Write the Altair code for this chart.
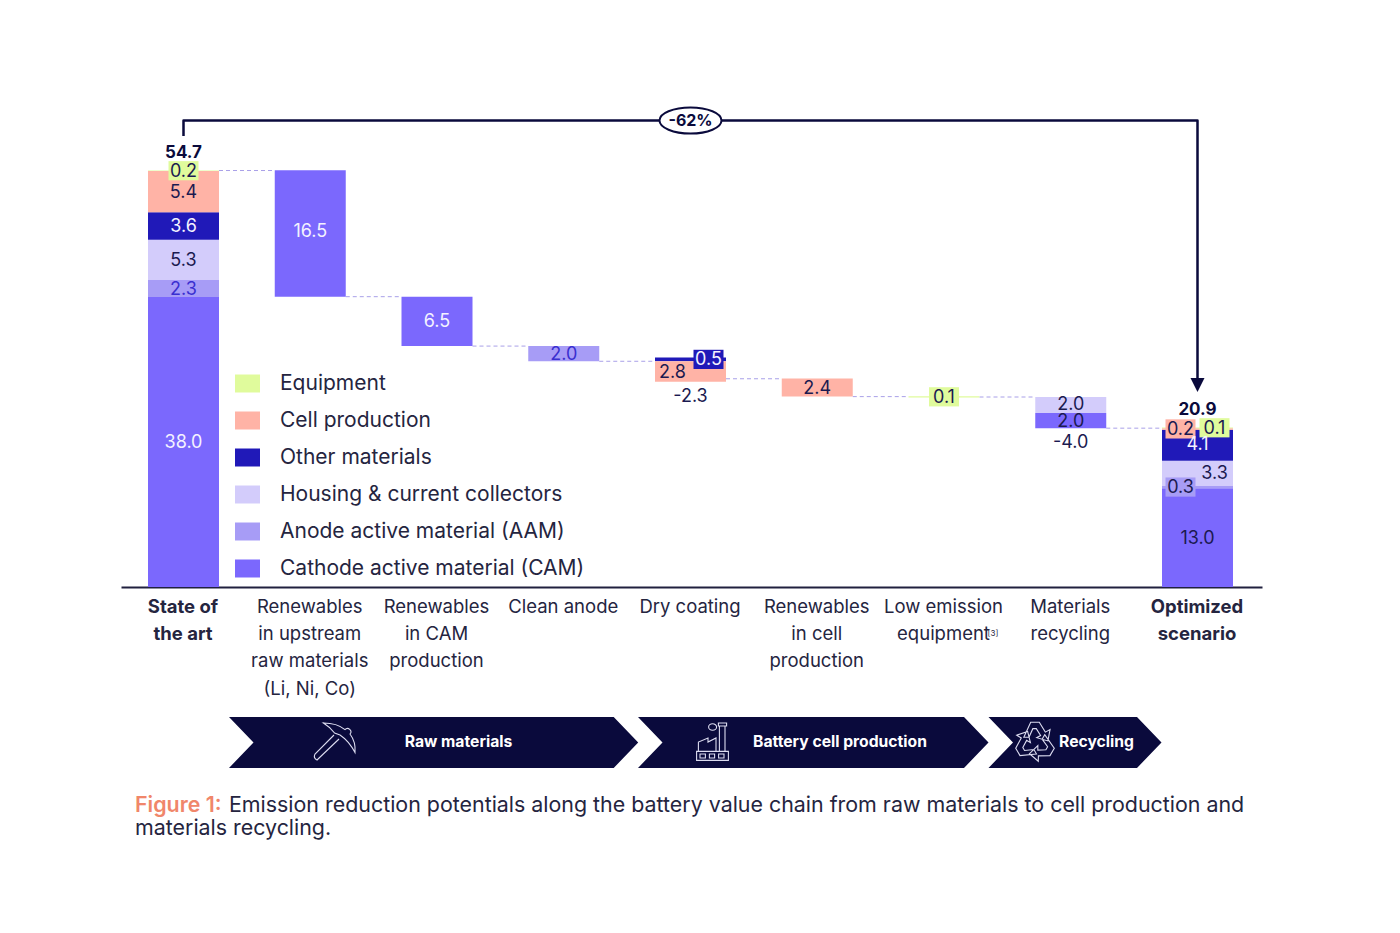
import json
import math
import altair as alt
import pandas as pd

# ---------- data ----------
categories = [
    ["State of", "the art"],
    ["Renewables", "in upstream", "raw materials", "(Li, Ni, Co)"],
    ["Renewables", "in CAM", "production"],
    ["Clean anode"],
    ["Dry coating"],
    ["Renewables", "in cell", "production"],
    ["Low emission", "equipment\u2002"],
    ["Materials", "recycling"],
    ["Optimized", "scenario"],
]
footnote = "[3]"
groups = [
    "Equipment", "Cell production", "Other materials",
    "Housing & current collectors", "Anode active material (AAM)",
    "Cathode active material (CAM)",
]
group_colors = ["#e0fb9c", "#ffb3a6", "#2019b8", "#d3ccfb", "#a79cf6", "#7b68fd"]

seg_cat = [0, 0, 0, 0, 0, 0, 1, 2, 3, 4, 4, 5, 6, 7, 7, 8, 8, 8, 8, 8, 8]
seg_group = [5, 4, 3, 2, 1, 0, 5, 5, 4, 2, 1, 1, 0, 3, 5, 5, 4, 3, 2, 1, 0]
seg_start = [0, 38.15, 40.4, 45.7, 49.3, 54.75, 54.85, 38.2, 31.7, 29.7, 29.7,
             27.45, 25.1, 25.0, 22.9, 0, 13.0, 13.3, 16.6, 20.7, 20.9]
seg_end = [38.15, 40.4, 45.7, 49.3, 54.75, 54.8, 38.2, 31.7, 29.7, 30.2, 27.0,
           25.05, 24.95, 22.9, 20.9, 13.0, 13.3, 16.6, 20.7, 20.9, 21.0]
seg_label = ["38.0", "2.3", "5.3", "3.6", "5.4", "0.2", "16.5", "6.5", "2.0", "0.5", "2.8",
             "2.4", "0.1", "2.0", "2.0", "13.0", "0.3", "3.3", "4.1", "0.2", "0.1"]

conn_cat = [0, 1, 2, 3, 4, 5, 6, 7]
conn_level = [54.8, 38.2, 31.7, 29.7, 27.4, 25.05, 25.0, 20.9]

total_cat = [0, 8]
total_value = [54.7, 20.9]
net_cat = [4, 7]
net_value = [-2.3, -4.0]
net_bottom = [27.0, 20.9]
reduction = "-62%"

chevron_labels = ["Raw materials", "Battery cell production", "Recycling"]
caption_head = "Figure 1:"
caption_1 = "Emission reduction potentials along the battery value chain from raw materials to cell production and"
caption_2 = "materials recycling."

# ---------- layout helpers (pixel position on the page -> data units) ----------
PX_PER_CAT, PX_PER_UNIT = 126.75, 7.6
def ux(px): return (px - 183.5) / PX_PER_CAT
def uy(py): return (587 - py) / PX_PER_UNIT

NAVY = "#0a0a3c"
INK = "#25253f"
FONT = "Inter"
BAR = 35.5 / PX_PER_CAT
xs = alt.Scale(domain=[ux(121), ux(1262)], nice=False, zero=False)
ys = alt.Scale(domain=[0, 500 / PX_PER_UNIT], nice=False, zero=False)

x_axis = alt.Axis(
    values=list(range(len(categories))),
    labelExpr=json.dumps(categories, ensure_ascii=True) + "[datum.value]",
    title=None, grid=False, ticks=False, domainColor="#20203f", domainWidth=2,
    labelFont=FONT, labelFontSize=18.5, labelColor=INK, labelLineHeight=27.4,
    labelPadding=10, labelAngle=0, labelBaseline="top", labelFlush=False, labelOverlap=False,
    labelOffset=-1,
    labelFontWeight={"condition": {"test": "datum.value==0||datum.value==8", "value": 700}, "value": 400},
)
def X(f): return alt.X(f, type="quantitative", scale=xs, axis=x_axis)
def Y(f): return alt.Y(f, type="quantitative", scale=ys, axis=None)

color_scale = alt.Scale(domain=groups, range=group_colors)
legend = alt.Legend(
    orient="none", legendX=114, legendY=284, title=None, direction="vertical",
    symbolType="M-1,-0.72H1V0.72H-1Z", symbolSize=625, symbolStrokeWidth=0, symbolOpacity=1,
    labelFont=FONT, labelFontSize=21, labelColor=INK, labelOffset=20, rowPadding=14,
    labelLimit=500, symbolOffset=0,
)

segments = pd.DataFrame({
    "cat": seg_cat,
    "group": [groups[g] for g in seg_group],
    "start": seg_start,
    "end": seg_end,
    "label": seg_label,
})
segments["x0"] = segments["cat"] - BAR
segments["x1"] = segments["cat"] + BAR
segments["mid"] = (segments["start"] + segments["end"]) / 2

# pixel nudges of the labels and boxes, keyed by row of the segment table
nudge = {4: (0, 0), 5: (0, 0), 6: (0, -2), 9: (18, 0), 10: (-18, 0), 13: (0, -1), 14: (0, 0),
         16: (-17, 0), 17: (17, 0), 18: (0, -1), 19: (-17, 0), 20: (17, 0)}
segments["lx"] = [c + nudge.get(i, (0, 0))[0] / PX_PER_CAT for i, c in enumerate(seg_cat)]
segments["ly"] = [m - nudge.get(i, (0, 0))[1] / PX_PER_UNIT for i, m in enumerate(segments["mid"])]

light = {"38.0", "16.5", "6.5", "3.6", "4.1", "0.5"}
segments["tc"] = ["#f4f2ff" if l in light else ("#3a2fd0" if l == "2.3" else "#1b1a50") for l in seg_label]
segments.loc[seg_label.index("2.0"), "tc"] = "#3a2fd0"

bars = alt.Chart(segments).mark_rect().encode(
    x=X("x0"), x2="x1", y=Y("start"), y2="end",
    color=alt.Color("group:N", scale=color_scale, legend=legend),
)

boxed = segments[segments["label"].isin(["0.2", "0.5", "0.1", "0.3"])]
boxes = alt.Chart(boxed).mark_point(filled=True, opacity=1, shape="M-1,-0.64H1V0.64H-1Z", size=900).encode(
    x=X("lx"), y=Y("ly"),
    color=alt.Color("group:N", scale=color_scale, legend=None),
)

labels = alt.Chart(segments).mark_text(font=FONT, fontSize=18, baseline="middle", align="center", dy=1).encode(
    x=X("lx"), y=Y("ly"), text="label:N", color=alt.Color("tc:N", scale=None),
)

conn = pd.DataFrame({"x0": [c + BAR for c in conn_cat], "x1": [c + 1 - BAR for c in conn_cat], "y": conn_level})
connectors = alt.Chart(conn).mark_rule(color="#a9a0e8", strokeWidth=1, strokeDash=[4, 3]).encode(
    x=X("x0"), x2="x1", y=Y("y"),
)

totals = alt.Chart(pd.DataFrame({"x": total_cat, "y": total_value, "t": [f"{v:.1f}" for v in total_value]})).mark_text(
    font=FONT, fontSize=17, fontWeight=700, color=NAVY, dy=-18.5, baseline="middle",
).encode(x=X("x"), y=Y("y"), text="t:N")

nets = alt.Chart(pd.DataFrame({"x": net_cat, "y": net_bottom, "t": [f"{v:.1f}" for v in net_value]})).mark_text(
    font=FONT, fontSize=18, color="#1b1a50", dy=15, baseline="middle",
).encode(x=X("x"), y=Y("y"), text="t:N")

# reduction bracket
bracket_df = pd.DataFrame({"x": [0, 0, 8, 8], "y": [uy(136), uy(120.5), uy(120.5), uy(380)], "o": [0, 1, 2, 3]})
bracket = alt.Chart(bracket_df).mark_line(color=NAVY, strokeWidth=2.5, strokeJoin="round").encode(
    x=X("x"), y=Y("y"), order="o:Q",
)
anchors = pd.DataFrame({"x": [8], "y": [uy(385)]})
arrow = alt.Chart(anchors).mark_point(filled=True, opacity=1, color=NAVY, shape="M-1,-1H1L0,1Z", size=196).encode(
    x=X("x"), y=Y("y"),
)
pill_df = pd.DataFrame({"x": [4], "y": [uy(120.5)], "t": [reduction]})
pill = alt.Chart(pill_df).mark_point(
    filled=True, fill="white", stroke=NAVY, strokeWidth=2, opacity=1,
    shape="M-1,0A1,0.42 0 1 1 1,0A1,0.42 0 1 1 -1,0Z", size=3844,
).encode(x=X("x"), y=Y("y"))
pill_text = alt.Chart(pill_df).mark_text(font=FONT, fontSize=16, fontWeight=700, color=NAVY, baseline="middle").encode(
    x=X("x"), y=Y("y"), text="t:N",
)

note = alt.Chart(pd.DataFrame({"x": [ux(993)], "y": [uy(634)], "t": [footnote]})).mark_text(
    font=FONT, fontSize=8, color=INK, baseline="middle",
).encode(x=X("x"), y=Y("y"), text="t:N")

# chevrons of the value chain
chev_left = [229, 638, 988.5]
chev_right = [613.7, 964, 1137]
NOTCH = 24.5
rows = []
for i, (l, r) in enumerate(zip(chev_left, chev_right)):
    rows += [
        {"c": i, "y": uy(717), "x0": ux(l), "x1": ux(r)},
        {"c": i, "y": uy(742.5), "x0": ux(l + NOTCH), "x1": ux(r + NOTCH)},
        {"c": i, "y": uy(768), "x0": ux(l), "x1": ux(r)},
    ]
chevrons = alt.Chart(pd.DataFrame(rows)).mark_area(orient="horizontal", color=NAVY, opacity=1).encode(
    y=Y("y"), x=X("x0"), x2="x1", detail="c:N",
)
chev_text = alt.Chart(pd.DataFrame({
    "x": [ux(458.5), ux(840), ux(1096.5)], "y": [uy(742)] * 3, "t": chevron_labels,
})).mark_text(font=FONT, fontSize=15.7, fontWeight=700, color="white", baseline="middle").encode(
    x=X("x"), y=Y("y"), text="t:N",
)

# icons
PICK = ("M-0.48,-0.95Q0.2,-0.95 0.6,-0.62A0.16,0.16 0 1 1 0.85,-0.4Q1.15,0 1.1,0.53Q0.8,-0.05 0.35,-0.35"
        "L0.08,-0.45Q-0.15,-0.75 -0.48,-0.95Z"
        "M0.05,-0.35L-0.9,0.6Q-1,0.8 -0.8,0.9L0.3,-0.15")
FACTORY = ("M-0.77,0.47H0.82V0.92H-0.77Z"
           "M-0.6,0.6H-0.33V0.8H-0.6Z M-0.13,0.6H0.13V0.8H-0.13Z M0.33,0.6H0.6V0.8H0.33Z"
           "M-0.68,0.47V0L-0.2,-0.2V0L0.2,-0.2V0.47"
           "M0.37,0.47V-0.8H0.65V0.47 M0.32,-0.95H0.73V-0.8H0.32Z"
           "M-0.17,-0.75a0.2,0.16 0 1 1 0.4,0a0.2,0.16 0 1 1 -0.4,0Z")
def _rot(p, k):
    a = 2 * math.pi * k / 3
    return (p[0] * math.cos(a) - p[1] * math.sin(a), p[0] * math.sin(a) + p[1] * math.cos(a))
_arrow = [(-0.52, -0.22), (-0.2, -0.92), (0.2, -0.92), (0.48, -0.46), (0.7, -0.58), (0.6, -0.05),
          (0.08, -0.2), (0.26, -0.3), (0.06, -0.62), (-0.1, -0.62), (-0.28, -0.22)]
RECYCLE = "".join(
    "M" + "L".join(f"{x:.3f},{y:.3f}" for x, y in (_rot(p, k) for p in _arrow)) + "Z" for k in range(3)
)
def icon(path, px, py, w):
    return alt.Chart(pd.DataFrame({"x": [ux(px)], "y": [uy(py)]})).mark_point(
        shape=path, size=w * w, filled=False, stroke="#dcdcf0", strokeWidth=1.1, opacity=1,
    ).encode(x=X("x"), y=Y("y"))
icons = [icon(PICK, 333, 742, 40), icon(FACTORY, 712, 742, 40), icon(RECYCLE, 1035, 742, 43)]

# caption
cap_style = dict(font=FONT, fontSize=21.4, baseline="middle", align="left")
cap_head = alt.Chart(pd.DataFrame({"x": [ux(135)], "y": [uy(806)], "t": [caption_head]})).mark_text(
    fontWeight=600, color="#f0866a", **cap_style).encode(x=X("x"), y=Y("y"), text="t:N")
cap_body = alt.Chart(pd.DataFrame({"x": [ux(229), ux(135)], "y": [uy(806), uy(829)], "t": [caption_1, caption_2]})).mark_text(
    color=INK, **cap_style).encode(x=X("x"), y=Y("y"), text="t:N")

chart = alt.layer(
    connectors, bars, boxes, labels, totals, nets, bracket, arrow, pill, pill_text, note,
    chevrons, chev_text, *icons, cap_head, cap_body,
).properties(
    width=1141, height=500,
    padding={"left": 113, "top": 79, "right": 130, "bottom": 330},
    autosize=alt.AutoSizeParams(type="none"),
    background="white",
).configure_view(stroke=None)

chart.save("out.html", embed_options={"renderer": "svg", "actions": False})
